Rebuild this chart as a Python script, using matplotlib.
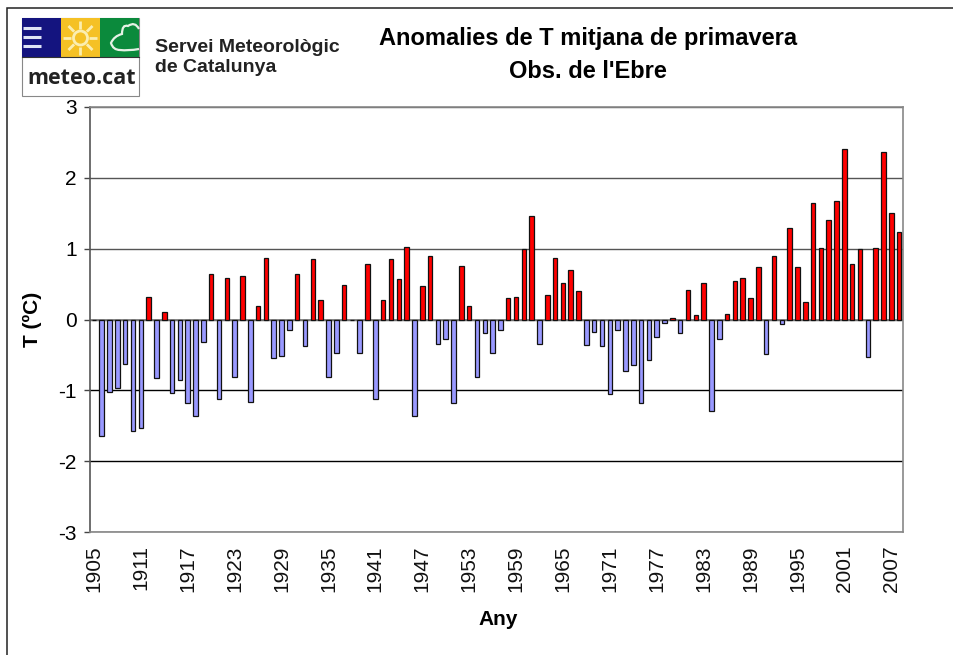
import numpy as np
import matplotlib
matplotlib.use("Agg")
import matplotlib.pyplot as plt
from matplotlib.patches import Rectangle, Circle, PathPatch
from matplotlib.path import Path

plt.rcParams["font.family"] = ["Liberation Sans", "DejaVu Sans"]

years = list(range(1905, 2009))
# 1905 and 1938 have no visible bar
anomalies = [
    0.0, -1.65, -1.02, -0.97, -0.63, -1.57, -1.53, 0.32, -0.82, 0.10,
    -1.04, -0.85, -1.18, -1.36, -0.32, 0.64, -1.12, 0.59, -0.81, 0.61,
    -1.16, 0.19, 0.87, -0.55, -0.51, -0.15, 0.64, -0.38, 0.85, 0.28,
    -0.81, -0.47, 0.49, 0.0, -0.47, 0.78, -1.12, 0.28, 0.85, 0.57,
    1.02, -1.36, 0.47, 0.89, -0.34, -0.28, -1.18, 0.76, 0.19, -0.81,
    -0.19, -0.47, -0.15, 0.30, 0.32, 0.99, 1.46, -0.34, 0.34, 0.87,
    0.51, 0.70, 0.40, -0.36, -0.17, -0.38, -1.05, -0.15, -0.72, -0.64,
    -1.18, -0.57, -0.24, -0.05, 0.02, -0.19, 0.42, 0.07, 0.51, -1.29,
    -0.28, 0.08, 0.55, 0.59, 0.30, 0.74, -0.49, 0.89, -0.07, 1.29,
    0.74, 0.25, 1.65, 1.01, 1.40, 1.67, 2.41, 0.78, 1.00, -0.53,
    1.01, 2.37, 1.50, 1.23,
]
y_ticks = [-3, -2, -1, 0, 1, 2, 3]
title_lines = ["Anomalies de T mitjana de primavera", "Obs. de l'Ebre"]
org_lines = ["Servei Meteorològic", "de Catalunya"]

W, H = 954, 655
fig = plt.figure(figsize=(W / 100, H / 100), dpi=100)
ax = fig.add_axes([90 / W, 1 - 532 / H, 813 / W, 425 / H])

x = np.arange(len(years))
colors = ["#ff0000" if v >= 0 else "#9999ff" for v in anomalies]
ax.bar(x, anomalies, width=0.58, color=colors, edgecolor="#111111", linewidth=0.9, zorder=3)

ax.set_xlim(-0.5, len(years) - 0.5)
ax.set_ylim(-3, 3)
ax.set_yticks(y_ticks)
ax.set_yticklabels([str(t) for t in y_ticks], fontsize=15)
ax.set_xticks(x[::6])
ax.set_xticklabels([str(years[i]) for i in x[::6]], rotation=90, fontsize=15, color="#111111")
ax.tick_params(axis="x", length=0, pad=9.5)
ax.tick_params(axis="y", length=4.5, width=1, color="#444444", pad=5)
ax.grid(axis="y", color="#555555", linewidth=1, zorder=1)
for t, line in zip(y_ticks, ax.get_ygridlines()):
    if t < 0:
        line.set_color("black")
ax.axhline(0, color="#777777", linewidth=1.2, zorder=2)
ax.spines["left"].set_color("#555555")
ax.spines["left"].set_linewidth(1.2)
for side in ["right", "top", "bottom"]:
    ax.spines[side].set_color("#888888")
    ax.spines[side].set_linewidth(1.2)
ax.set_xlabel("Any", fontsize=15, fontweight="bold")
ax.xaxis.set_label_coords(0.5025, -0.183)
ax.set_ylabel("T (ºC)", fontsize=15, fontweight="bold")
ax.yaxis.set_label_coords(-0.059, 0.5)

# overlay in pixel coordinates for the outer frame, logo and headings
ov = fig.add_axes([0, 0, 1, 1], zorder=5)
ov.set_xlim(0, W)
ov.set_ylim(H, 0)
ov.axis("off")
ov.patch.set_alpha(0)
ov.plot([7.5, 7.5, W], [H, 7.5, 7.5], color="#222222", lw=1.1, solid_joinstyle="miter")

ov.add_patch(Rectangle((22, 18), 117, 78, fc="white", ec="#888888", lw=0.8))
ov.add_patch(Rectangle((22, 18), 39, 39, fc="#14147f", ec="none"))
ov.add_patch(Rectangle((61, 18), 39, 39, fc="#f5c125", ec="none"))
ov.add_patch(Rectangle((100, 18), 39, 39, fc="#0b8a3c", ec="none"))
ov.plot([22, 139], [57, 57], color="#333333", lw=0.8)
for yy in [28, 37, 46]:
    ov.plot([23, 41], [yy, yy], color="#dfe4f5", lw=2.2, solid_capstyle="butt")
ov.add_patch(Circle((80.5, 38), 7, fc="none", ec="#fbeeb0", lw=2))
for a in np.arange(0, 360, 45):
    ca, sa = np.cos(np.radians(a)), np.sin(np.radians(a))
    ov.plot([80.5 + 9 * ca, 80.5 + 17 * ca], [38 + 9 * sa, 38 + 17 * sa], color="#fbeeb0", lw=2,
            solid_capstyle="butt")
cloud = Path(
    [(139, 29), (135, 21), (128, 26), (122, 24), (122, 34), (114, 36), (111, 43),
     (113, 50), (120, 50), (128, 51), (139, 49)],
    [Path.MOVETO, Path.CURVE3, Path.CURVE3, Path.CURVE3, Path.CURVE3, Path.CURVE3, Path.CURVE3,
     Path.CURVE3, Path.CURVE3, Path.CURVE3, Path.LINETO],
)
ov.add_patch(PathPatch(cloud, fc="none", ec="#e6f2e6", lw=1.6))
ov.text(81.5, 78, "meteo.cat", fontsize=15.5, family="Open Sans", ha="center", va="center",
        fontweight="bold", color="#222222")

ov.text(155, 47, org_lines[0], fontsize=14, fontweight="bold", va="center", color="#222222")
ov.text(155, 67, org_lines[1], fontsize=14, fontweight="bold", va="center", color="#222222")
ov.text(588, 39, title_lines[0], fontsize=17, fontweight="bold", ha="center", va="center")
ov.text(588, 71, title_lines[1], fontsize=17, fontweight="bold", ha="center", va="center")

fig.savefig("out.png", dpi=100)
